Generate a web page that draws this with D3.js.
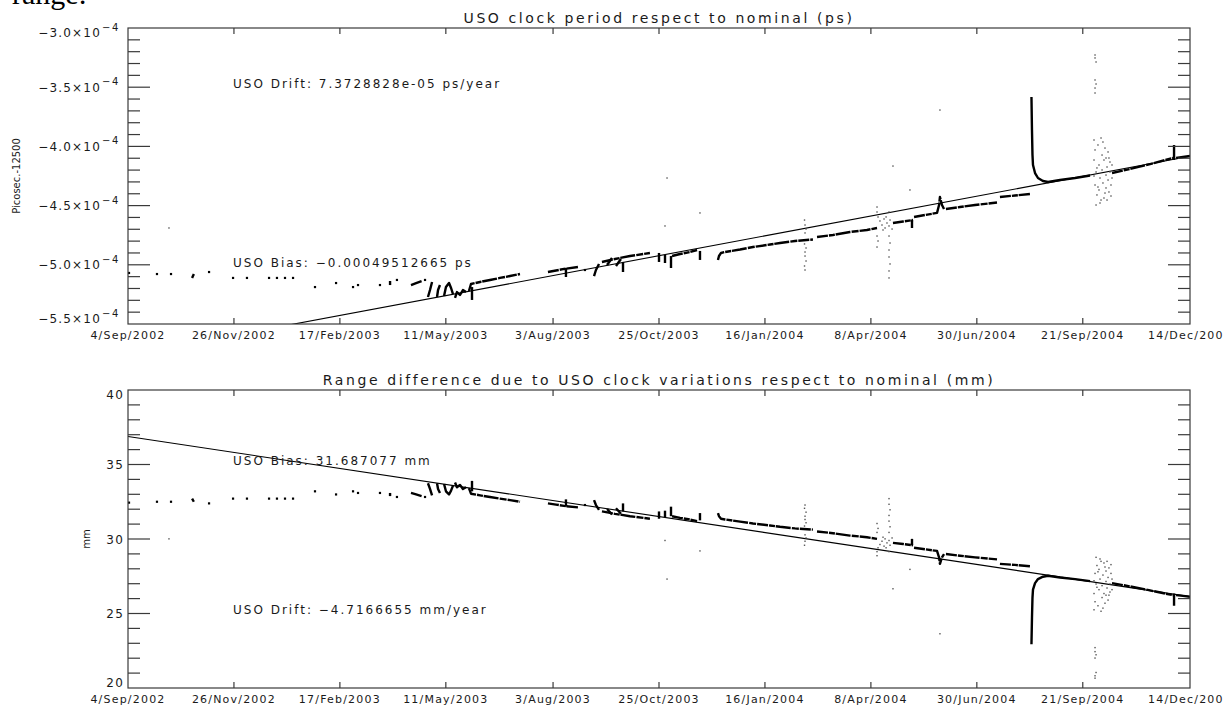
<!DOCTYPE html>
<html>
<head>
<meta charset="utf-8">
<script src="https://cdn.jsdelivr.net/npm/d3@7"></script>
<style>
  html, body { margin: 0; padding: 0; background: #fff; }
  svg { display: block; }
  text { font-family: "DejaVu Sans", "Liberation Sans", sans-serif; fill: #1a1a1a; }
</style>
</head>
<body>
<svg id="chart" width="1223" height="706"></svg>
<script>
// ---- time axis -------------------------------------------------------------
const startDate = "2002-09-04";            // day 0 of every series below
const endDate = "2004-12-14";
const dateTicks = ["2002-09-04", "2002-11-26", "2003-02-17", "2003-05-11", "2003-08-03",
  "2003-10-25", "2004-01-16", "2004-04-08", "2004-06-30", "2004-09-21", "2004-12-14"];
const dateTickLabels = ["4/Sep/2002", "26/Nov/2002", "17/Feb/2003", "11/May/2003", "3/Aug/2003",
  "25/Oct/2003", "16/Jan/2004", "8/Apr/2004", "30/Jun/2004", "21/Sep/2004", "14/Dec/2004"];

// ---- USO clock period (units of 1e-4 ps, offset from 12500 ps) -------------
const periodUnit = 1e-4;
const periodTicks = [-5.5, -5.0, -4.5, -4.0, -3.5, -3.0];
const periodTrack = [
  [[0.8, -5.069]], [[22.7, -5.078]], [[33.7, -5.078]], [[50.2, -5.111], [51.6, -5.078]],
  [[63.5, -5.061]], [[82.3, -5.111]], [[93.2, -5.111]], [[110.5, -5.111]], [[116.7, -5.111]],
  [[123.0, -5.111]], [[129.3, -5.111]], [[146.5, -5.188]], [[163.0, -5.154]], [[176.3, -5.188]],
  [[180.2, -5.171]], [[197.4, -5.171]], [[205.3, -5.137], [205.3, -5.171]], [[210.7, -5.128]],
  [[221.7, -5.171], [225.7, -5.154], [230.0, -5.137]], [[232.7, -5.128]],
  [[235.0, -5.272], [236.6, -5.213], [238.2, -5.145]],
  [[242.1, -5.272], [242.9, -5.213], [244.4, -5.171]],
  [[247.6, -5.264], [249.1, -5.188], [251.5, -5.154], [253.1, -5.196], [254.6, -5.247]],
  [[256.2, -5.280], [257.7, -5.230], [260.1, -5.255], [262.4, -5.213], [264.8, -5.230]],
  [[267.1, -5.221], [268.7, -5.162], [275.8, -5.145], [283.6, -5.128], [291.4, -5.111], [299.3, -5.095], [307.1, -5.078]],
  [[269.5, -5.188], [269.5, -5.297]],
  [[329.0, -5.061], [335.3, -5.048], [341.6, -5.035], [352.5, -5.019]],
  [[343.1, -5.027], [343.1, -5.103]], [[358.0, -5.044]],
  [[365.1, -5.095], [366.6, -5.044], [369.0, -4.993]],
  [[371.3, -4.976], [381.5, -4.951], [393.3, -4.926], [408.9, -4.900]],
  [[375.3, -5.002], [379.2, -4.943]], [[382.3, -5.010], [386.2, -4.951]],
  [[387.8, -4.976], [387.8, -5.061]], [[416.0, -4.900], [416.0, -4.976]],
  [[420.7, -4.917], [420.7, -4.985]], [[425.4, -4.926], [425.4, -5.027]],
  [[426.2, -4.926], [432.5, -4.909], [440.3, -4.892], [445.8, -4.875]],
  [[448.1, -4.883], [448.1, -4.959]],
  [[462.2, -4.959], [463.0, -4.926], [464.6, -4.900], [467.7, -4.892], [479.5, -4.871], [489.6, -4.850],
   [503.0, -4.829], [510.8, -4.816], [522.5, -4.799], [536.6, -4.786]],
  [[539.8, -4.765], [552.3, -4.748], [565.6, -4.723], [578.9, -4.706], [586.8, -4.689]],
  [[599.3, -4.647], [607.2, -4.634], [615.0, -4.622]], [[614.2, -4.622], [614.2, -4.689]],
  [[615.8, -4.596], [624.4, -4.579], [633.8, -4.562], [635.4, -4.495], [636.1, -4.427], [637.7, -4.495], [639.3, -4.529]],
  [[640.8, -4.529], [651.8, -4.512], [663.6, -4.495], [680.8, -4.474]],
  [[683.1, -4.427], [694.9, -4.415], [706.6, -4.402]],
  [[707.8, -3.583], [708.2, -3.861], [708.6, -4.073], [709.0, -4.157], [710.6, -4.225], [712.9, -4.267],
   [716.8, -4.292], [720.8, -4.301], [730.2, -4.284], [741.9, -4.267], [753.7, -4.246]],
  [[770.9, -4.225], [785.0, -4.191], [800.7, -4.149], [818.7, -4.098]],
  [[819.5, -3.988], [819.5, -4.115]],
  [[821.1, -4.098], [826.5, -4.090], [832.0, -4.081]]
];
const periodScatter = [
  [32.1, -4.689], [420.7, -4.672], [422.3, -4.267], [448.1, -4.562], [599.3, -4.166], [612.6, -4.368], [636.1, -3.693],
  [530.0, -4.622], [530.4, -4.664], [531.2, -4.698], [530.4, -4.731], [530.0, -4.824], [531.2, -4.858],
  [530.4, -4.892], [530.4, -4.926], [531.2, -4.968], [530.0, -5.010], [530.4, -5.044],
  [586.8, -4.512], [586.8, -4.554], [587.6, -4.596], [586.8, -4.757], [587.6, -4.799], [586.8, -4.850],
  [589.1, -4.630], [590.7, -4.664], [592.3, -4.613], [593.1, -4.689], [594.6, -4.647], [596.2, -4.672],
  [597.0, -4.622], [598.6, -4.698], [591.5, -4.706], [593.9, -4.596],
  [596.2, -4.554], [596.2, -4.757], [597.0, -4.816], [596.2, -4.875], [596.2, -4.934], [597.0, -4.993],
  [596.2, -5.052], [596.2, -5.111],
  [757.6, -3.228], [757.6, -3.253], [758.4, -3.287], [757.6, -3.439], [758.4, -3.473], [757.6, -3.507], [757.6, -3.549],
  [756.8, -3.946], [757.6, -4.030], [756.8, -4.115], [758.4, -4.216], [757.6, -4.326], [759.1, -4.410],
  [758.4, -4.495], [759.9, -3.988], [760.7, -4.157], [761.5, -4.267], [760.7, -4.368], [762.3, -3.929],
  [763.1, -4.073], [763.1, -4.199], [763.8, -4.309], [764.6, -4.436], [764.6, -4.115], [765.4, -4.014],
  [766.2, -4.242], [766.2, -4.351], [767.0, -4.174], [767.0, -4.453], [767.8, -4.047], [767.8, -4.284],
  [768.5, -4.385], [769.3, -4.132], [769.3, -4.216], [770.1, -4.326], [770.1, -4.419], [770.9, -4.267],
  [759.1, -4.182], [762.3, -4.453], [763.8, -3.963], [765.4, -4.394], [768.5, -4.098], [761.5, -4.478],
  [759.9, -4.343], [766.2, -4.098], [770.9, -4.157], [756.8, -4.250]
];
const periodBias = -0.00049512665;     // ps
const periodDrift = 7.3728828e-05;     // ps/year

// ---- range difference (mm) --------------------------------------------------
const rangeTicks = [20, 25, 30, 35, 40];
const rangeTrack = [
  [[0.8, 32.44]], [[22.7, 32.50]], [[33.7, 32.50]], [[50.2, 32.71], [51.6, 32.50]],
  [[63.5, 32.39]], [[82.3, 32.71]], [[93.2, 32.71]], [[110.5, 32.71]], [[116.7, 32.71]],
  [[123.0, 32.71]], [[129.3, 32.71]], [[146.5, 33.20]], [[163.0, 32.99]], [[176.3, 33.20]],
  [[180.2, 33.09]], [[197.4, 33.09]], [[205.3, 32.88], [205.3, 33.09]], [[210.7, 32.82]],
  [[221.7, 33.09], [225.7, 32.99], [230.0, 32.88]], [[232.7, 32.82]],
  [[235.0, 33.74], [236.6, 33.36], [238.2, 32.93]],
  [[242.1, 33.74], [242.9, 33.36], [244.4, 33.09]],
  [[247.6, 33.69], [249.1, 33.20], [251.5, 32.99], [253.1, 33.25], [254.6, 33.58]],
  [[256.2, 33.79], [257.7, 33.47], [260.1, 33.63], [262.4, 33.36], [264.8, 33.47]],
  [[267.1, 33.41], [268.7, 33.04], [275.8, 32.93], [283.6, 32.82], [291.4, 32.71], [299.3, 32.61], [307.1, 32.50]],
  [[269.5, 33.20], [269.5, 33.90]],
  [[329.0, 32.39], [335.3, 32.31], [341.6, 32.22], [352.5, 32.12]],
  [[343.1, 32.17], [343.1, 32.66]], [[358.0, 32.28]],
  [[365.1, 32.61], [366.6, 32.28], [369.0, 31.96]],
  [[371.3, 31.85], [381.5, 31.69], [393.3, 31.53], [408.9, 31.36]],
  [[375.3, 32.01], [379.2, 31.64]], [[382.3, 32.06], [386.2, 31.69]],
  [[387.8, 31.85], [387.8, 32.39]], [[416.0, 31.36], [416.0, 31.85]],
  [[420.7, 31.47], [420.7, 31.90]], [[425.4, 31.53], [425.4, 32.17]],
  [[426.2, 31.53], [432.5, 31.42], [440.3, 31.31], [445.8, 31.20]],
  [[448.1, 31.25], [448.1, 31.74]],
  [[462.2, 31.74], [463.0, 31.53], [464.6, 31.36], [467.7, 31.31], [479.5, 31.17], [489.6, 31.04],
   [503.0, 30.91], [510.8, 30.82], [522.5, 30.71], [536.6, 30.63]],
  [[539.8, 30.50], [552.3, 30.39], [565.6, 30.23], [578.9, 30.12], [586.8, 30.01]],
  [[599.3, 29.74], [607.2, 29.66], [615.0, 29.58]], [[614.2, 29.58], [614.2, 30.01]],
  [[615.8, 29.41], [624.4, 29.31], [633.8, 29.20], [635.4, 28.77], [636.1, 28.33], [637.7, 28.77], [639.3, 28.99]],
  [[640.8, 28.99], [651.8, 28.88], [663.6, 28.77], [680.8, 28.63]],
  [[683.1, 28.33], [694.9, 28.26], [706.6, 28.17]],
  [[707.8, 22.93], [708.2, 24.71], [708.6, 26.07], [709.0, 26.60], [710.6, 27.04], [712.9, 27.31],
   [716.8, 27.47], [720.8, 27.53], [730.2, 27.42], [741.9, 27.31], [753.7, 27.17]],
  [[770.9, 27.04], [785.0, 26.82], [800.7, 26.55], [818.7, 26.23]],
  [[819.5, 25.52], [819.5, 26.34]],
  [[821.1, 26.23], [826.5, 26.18], [832.0, 26.12]]
];
const rangeScatter = [
  [32.1, 30.01], [420.7, 29.90], [422.3, 27.31], [448.1, 29.20], [599.3, 26.66], [612.6, 27.96], [636.1, 23.64],
  [530.0, 29.58], [530.4, 29.85], [531.2, 30.07], [530.4, 30.28], [530.0, 30.87], [531.2, 31.09],
  [530.4, 31.31], [530.4, 31.53], [531.2, 31.80], [530.0, 32.06], [530.4, 32.28],
  [586.8, 28.88], [586.8, 29.15], [587.6, 29.41], [586.8, 30.44], [587.6, 30.71], [586.8, 31.04],
  [589.1, 29.63], [590.7, 29.85], [592.3, 29.52], [593.1, 30.01], [594.6, 29.74], [596.2, 29.90],
  [597.0, 29.58], [598.6, 30.07], [591.5, 30.12], [593.9, 29.41],
  [596.2, 29.15], [596.2, 30.44], [597.0, 30.82], [596.2, 31.20], [596.2, 31.58], [597.0, 31.96],
  [596.2, 32.33], [596.2, 32.71],
  [757.6, 20.66], [757.6, 20.82], [758.4, 21.04], [757.6, 22.01], [758.4, 22.23], [757.6, 22.44], [757.6, 22.71],
  [756.8, 25.25], [757.6, 25.79], [756.8, 26.34], [758.4, 26.98], [757.6, 27.69], [759.1, 28.22],
  [758.4, 28.77], [759.9, 25.52], [760.7, 26.60], [761.5, 27.31], [760.7, 27.96], [762.3, 25.15],
  [763.1, 26.07], [763.1, 26.87], [763.8, 27.58], [764.6, 28.39], [764.6, 26.34], [765.4, 25.69],
  [766.2, 27.15], [766.2, 27.85], [767.0, 26.71], [767.0, 28.50], [767.8, 25.90], [767.8, 27.42],
  [768.5, 28.06], [769.3, 26.44], [769.3, 26.98], [770.1, 27.69], [770.1, 28.28], [770.9, 27.31],
  [759.1, 26.76], [762.3, 28.50], [763.8, 25.36], [765.4, 28.12], [768.5, 26.23], [761.5, 28.66],
  [759.9, 27.80], [766.2, 26.23], [770.9, 26.60], [756.8, 27.20]
];
const rangeBias = 31.687077;           // mm
const rangeDrift = -4.7166655;         // mm/year
const fitEpochDay = 402;               // reference day of both linear fits

// ---- layout ------------------------------------------------------------------
const svg = d3.select("#chart");
const left = 128, right = 1190;
const parse = d3.utcParse("%Y-%m-%d");
const t0 = parse(startDate);
const toDate = d => new Date(t0.getTime() + d * 864e5);
const x = d3.scaleUtc().domain([t0, parse(endDate)]).range([left, right]);
const lastDay = (parse(endDate) - t0) / 864e5;

const panels = [
  {
    id: "period", top: 28, bottom: 324,
    domain: [-5.5e-4, -3.0e-4], unit: periodUnit,
    track: periodTrack, scatter: periodScatter, ticks: periodTicks,
    bias: periodBias, drift: periodDrift,
    title: "USO clock period respect to nominal (ps)",
    yTitle: "Picosec.-12500", yTitleX: 20,
    notes: [{ text: "USO Drift: 7.3728828e-05 ps/year", y: 88 },
            { text: "USO Bias: \u22120.00049512665 ps", y: 267 }]
  },
  {
    id: "range", top: 390, bottom: 688,
    domain: [20, 40], unit: 1,
    track: rangeTrack, scatter: rangeScatter, ticks: rangeTicks,
    bias: rangeBias, drift: rangeDrift,
    title: "Range difference due to USO clock variations respect to nominal (mm)",
    yTitle: "mm", yTitleX: 90,
    notes: [{ text: "USO Bias: 31.687077 mm", y: 465 },
            { text: "USO Drift: \u22124.7166655 mm/year", y: 614 }]
  }
];

// fragment of a document caption above the figure
svg.append("text").attr("x", 12).attr("y", 4)
  .style("font-family", "'Liberation Serif', serif").style("font-size", "30px")
  .style("fill", "#000").text("range:");

panels.forEach((p, pi) => {
  const y = d3.scaleLinear().domain(p.domain).range([p.bottom, p.top]);
  const g = svg.append("g").attr("class", p.id);

  g.append("clipPath").attr("id", "clip-" + p.id)
    .append("rect").attr("x", left).attr("y", p.top)
    .attr("width", right - left).attr("height", p.bottom - p.top);
  const plot = g.append("g").attr("clip-path", `url(#clip-${p.id})`);

  // linear fit
  const fit = d => p.bias + p.drift * (d - fitEpochDay) / 365.25;
  plot.append("path")
    .datum([0, lastDay])
    .attr("d", d3.line().x(d => x(toDate(d))).y(d => y(fit(d))))
    .attr("fill", "none").attr("stroke", "#000").attr("stroke-width", 1.1);

  // scattered single samples
  plot.selectAll("rect.pt").data(p.scatter).join("rect").attr("class", "pt")
    .attr("x", d => x(toDate(d[0])) - 0.7).attr("y", d => y(d[1] * p.unit) - 0.7)
    .attr("width", 1.4).attr("height", 1.4).attr("fill", "#555");

  // tracked passes
  const line = d3.line().x(d => x(toDate(d[0]))).y(d => y(d[1] * p.unit));
  p.track.forEach(seg => {
    if (seg.length === 1) {
      plot.append("rect")
        .attr("x", x(toDate(seg[0][0])) - 1.1).attr("y", y(seg[0][1] * p.unit) - 1.1)
        .attr("width", 2.2).attr("height", 2.2).attr("fill", "#000");
    } else {
      const ys = seg.map(d => y(d[1] * p.unit));
      const flat = d3.max(ys) - d3.min(ys) < 25 && (seg[seg.length - 1][0] - seg[0][0]) > 12;
      plot.append("path").datum(seg).attr("d", line)
        .attr("fill", "none").attr("stroke", "#000").attr("stroke-width", 2.4)
        .attr("stroke-linejoin", "round")
        .attr("stroke-dasharray", flat ? "11 1 6 0.8 15 1.2 7 1" : null);
    }
  });

  // frame
  const axisColor = "#3a3a3a";
  g.append("rect").attr("x", left).attr("y", p.top)
    .attr("width", right - left).attr("height", p.bottom - p.top)
    .attr("fill", "none").attr("stroke", axisColor).attr("stroke-width", 1.2);

  // y ticks: majors and four minors between them, on both sides, pointing inward
  const step = (p.ticks[1] - p.ticks[0]) / 5;
  const minor = d3.range(0, (p.ticks.length - 1) * 5 + 1).map(i => p.ticks[0] + i * step)
    .filter((v, i) => i % 5 !== 0);
  [[left, 1], [right, -1]].forEach(([x0, dir]) => {
    g.selectAll(null).data(p.ticks.slice(1, -1)).join("line")
      .attr("x1", x0).attr("x2", x0 + dir * 22)
      .attr("y1", d => y(d * p.unit)).attr("y2", d => y(d * p.unit))
      .attr("stroke", axisColor).attr("stroke-width", 1.2);
    g.selectAll(null).data(minor).join("line")
      .attr("x1", x0).attr("x2", x0 + dir * 12)
      .attr("y1", d => y(d * p.unit)).attr("y2", d => y(d * p.unit))
      .attr("stroke", axisColor).attr("stroke-width", 1.2);
  });

  // x ticks on top and bottom edges
  const tickDates = dateTicks.map(parse);
  [[p.bottom, -1], [p.top, 1]].forEach(([y0, dir]) => {
    g.selectAll(null).data(tickDates.slice(1, -1)).join("line")
      .attr("x1", d => x(d)).attr("x2", d => x(d))
      .attr("y1", y0).attr("y2", y0 + dir * 6)
      .attr("stroke", axisColor).attr("stroke-width", 1.2);
  });

  // date labels
  g.selectAll(null).data(tickDates).join("text")
    .attr("x", d => x(d)).attr("y", p.bottom + 15)
    .attr("text-anchor", "middle")
    .style("font-size", "11px").style("letter-spacing", "1.2px")
    .text((d, i) => dateTickLabels[i]);

  // y labels
  const n = p.ticks.length;
  p.ticks.forEach((v, i) => {
    const ty = y(v * p.unit);
    const base = i === 0 ? ty - 1 : (i === n - 1 ? ty + 9 : ty + 4.5);
    if (p.unit !== 1) {
      g.append("text").attr("x", 101).attr("y", base).attr("text-anchor", "end")
        .style("font-size", "12px").style("letter-spacing", "1.2px")
        .text(d3.format(".1f")(v).replace("-", "\u2212") + "\u00d710");
      g.append("text").attr("x", 102).attr("y", base - 6.5)
        .style("font-size", "10px").style("letter-spacing", "1.5px")
        .text("\u2212" + Math.round(-Math.log10(p.unit)));
    } else {
      g.append("text").attr("x", 124).attr("y", base).attr("text-anchor", "end")
        .style("font-size", "12px").style("letter-spacing", "1.2px")
        .text(d3.format("d")(v));
    }
  });

  // titles and notes
  g.append("text").attr("x", 659).attr("y", p.top - 5).attr("text-anchor", "middle")
    .style("font-size", "14px").style("letter-spacing", "2.6px").text(p.title);
  g.append("text")
    .attr("transform", `translate(${p.yTitleX},${(p.top + p.bottom) / 2}) rotate(-90)`)
    .attr("text-anchor", "middle").style("font-size", "10px").text(p.yTitle);
  p.notes.forEach(nt => {
    g.append("text").attr("x", 233).attr("y", nt.y)
      .style("font-size", "12px").style("letter-spacing", "2px").text(nt.text);
  });
});
</script>
</body>
</html>
